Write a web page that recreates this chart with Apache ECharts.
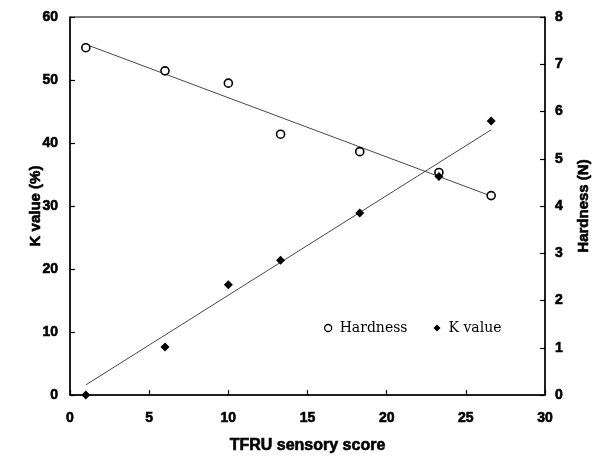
<!DOCTYPE html>
<html>
<head>
<meta charset="utf-8">
<script src="https://cdn.jsdelivr.net/npm/echarts@6/dist/echarts.min.js"></script>
<style>
  html, body { margin: 0; padding: 0; background: #fff; }
  #chart { width: 594px; height: 456px; }
</style>
</head>
<body>
<div id="chart"></div>
<script>
// TFRU sensory score for each sample
const tfruScore = [1.0, 6.0, 10.0, 13.3, 18.3, 23.3, 26.6];
// Hardness (N), right axis
const hardness = [7.35, 6.86, 6.60, 5.52, 5.15, 4.71, 4.22];
// K value (%), left axis
const kValue = [0, 7.6, 17.5, 21.4, 28.9, 34.7, 43.5];
// Linear trend line end points [score, value]
const hardnessTrend = [[1.0, 7.42], [26.6, 4.21]];
const kValueTrend = [[1.0, 1.6], [26.6, 42.1]];
// Axis ranges / steps
const xTicks = { min: 0, max: 30, step: 5 };
const kTicks = { min: 0, max: 60, step: 10 };
const hTicks = { min: 0, max: 8, step: 1 };

const pairs = (xs, ys) => xs.map((x, i) => [x, ys[i]]);

// Heavy sans-serif for axis text (a thin outline thickens the bold face)
const axisFont = {
  fontFamily: 'Liberation Sans', fontWeight: 'bold', fontSize: 14, color: '#000',
  textBorderColor: '#000', textBorderWidth: 0.6
};
const nameFont = (size) => Object.assign({}, axisFont, { fontSize: size });
const axisLine = { show: true, lineStyle: { color: '#000', width: 1.5 } };
const axisTick = { show: true, inside: true, length: 5, lineStyle: { color: '#000', width: 1.2 } };

const chart = echarts.init(document.getElementById('chart'), null, { renderer: 'canvas' });
chart.setOption({
  animation: false,
  backgroundColor: '#fff',
  grid: {
    left: 70, right: 49, top: 17, bottom: 61,
    containLabel: false, outerBoundsMode: 'none',
    show: true, borderColor: '#000', borderWidth: 1, backgroundColor: 'transparent'
  },
  legend: {
    left: 319, top: 316,
    itemWidth: 7, itemHeight: 7, itemGap: 26,
    textStyle: { fontFamily: 'DejaVu Serif', fontSize: 14, color: '#000', padding: [0, 0, 0, 3] },
    data: [
      { name: 'Hardness', icon: 'circle', itemStyle: { color: '#fff', borderColor: '#000', borderWidth: 1.3 } },
      { name: 'K value', icon: 'diamond', itemStyle: { color: '#000' } }
    ]
  },
  xAxis: {
    type: 'value', min: xTicks.min, max: xTicks.max, interval: xTicks.step,
    name: 'TFRU sensory score', nameLocation: 'middle', nameGap: 43, nameMoveOverlap: false,
    nameTextStyle: nameFont(16),
    axisLine, axisTick,
    axisLabel: Object.assign({ margin: 16 }, axisFont),
    splitLine: { show: false }
  },
  yAxis: [
    {
      type: 'value', position: 'left', min: kTicks.min, max: kTicks.max, interval: kTicks.step,
      name: 'K value (%)', nameLocation: 'middle', nameGap: 27, nameMoveOverlap: false,
      nameTextStyle: nameFont(15),
      axisLine, axisTick,
      axisLabel: Object.assign({ margin: 12 }, axisFont),
      splitLine: { show: false }
    },
    {
      type: 'value', position: 'right', min: hTicks.min, max: hTicks.max, interval: hTicks.step,
      name: 'Hardness (N)', nameLocation: 'middle', nameGap: 31, nameMoveOverlap: false,
      nameTextStyle: nameFont(15),
      axisLine, axisTick,
      axisLabel: Object.assign({ margin: 10 }, axisFont),
      splitLine: { show: false }
    }
  ],
  series: [
    {
      name: 'Hardness trend', type: 'line', yAxisIndex: 1, data: hardnessTrend,
      showSymbol: false, silent: true, z: 1,
      lineStyle: { color: '#333', width: 0.9 }
    },
    {
      name: 'K value trend', type: 'line', yAxisIndex: 0, data: kValueTrend,
      showSymbol: false, silent: true, z: 1,
      lineStyle: { color: '#333', width: 0.9 }
    },
    {
      name: 'Hardness', type: 'scatter', yAxisIndex: 1, data: pairs(tfruScore, hardness),
      symbol: 'circle', symbolSize: 8, z: 3,
      itemStyle: { color: '#fff', borderColor: '#000', borderWidth: 1.6, opacity: 1 }
    },
    {
      name: 'K value', type: 'scatter', yAxisIndex: 0, data: pairs(tfruScore, kValue),
      symbol: 'diamond', symbolSize: 9, z: 4,
      itemStyle: { color: '#000', opacity: 1 }
    }
  ]
});
</script>
</body>
</html>
